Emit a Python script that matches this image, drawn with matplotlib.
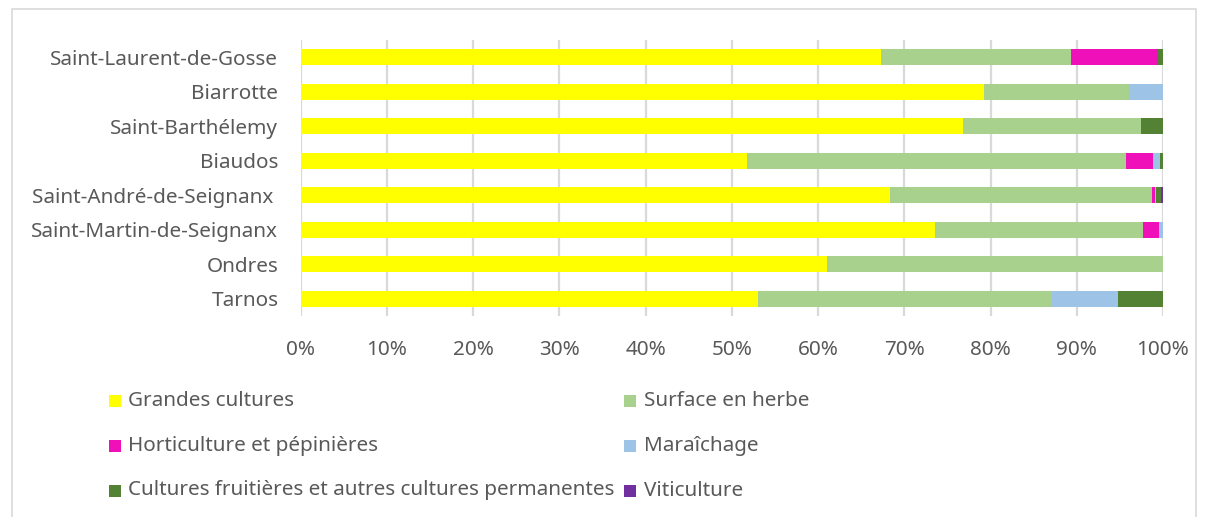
import matplotlib
matplotlib.use('Agg')
import matplotlib.pyplot as plt
from matplotlib.patches import Rectangle
import numpy as np

# share of each crop type by commune (%)
communes = ['Saint-Laurent-de-Gosse', 'Biarrotte', 'Saint-Barthélemy', 'Biaudos',
            'Saint-André-de-Seignanx ', 'Saint-Martin-de-Seignanx', 'Ondres', 'Tarnos']
grandes_cultures = [67.3, 79.2, 76.8, 51.8, 68.3, 73.6, 61.1, 53.1]
surface_herbe = [22.0, 16.8, 20.7, 43.9, 30.4, 24.1, 38.9, 34.0]
horticulture = [10.1, 0.0, 0.0, 3.1, 0.4, 1.8, 0.0, 0.0]
maraichage = [0.0, 4.0, 0.0, 0.9, 0.1, 0.5, 0.0, 7.7]
fruitieres = [0.6, 0.0, 2.5, 0.3, 0.6, 0.0, 0.0, 5.2]
viticulture = [0.0, 0.0, 0.0, 0.0, 0.2, 0.0, 0.0, 0.0]

series = [grandes_cultures, surface_herbe, horticulture, maraichage, fruitieres, viticulture]
names = ['Grandes cultures', 'Surface en herbe', 'Horticulture et pépinières',
         'Maraîchage', 'Cultures fruitières et autres cultures permanentes', 'Viticulture']
colors = ['#FFFF00', '#A9D18E', '#F010BA', '#9DC3E6', '#548235', '#7030A0']

plt.rcParams['font.family'] = ['Noto Sans', 'DejaVu Sans']
txt = '#595959'
fs = 14.9
W, H = 1208, 517

fig = plt.figure(figsize=(W / 100, H / 100), dpi=100)
ax = fig.add_axes([300.5 / W, 1 - 316 / H, 862.5 / W, 276 / H])

y = np.arange(len(communes))
left = np.zeros(len(communes))
for vals, c in zip(series, colors):
    v = np.array(vals)
    ax.barh(y, v, left=left, height=0.47, color=c, zorder=3)
    left += v

ax.set_xlim(0, 100)
ax.set_ylim(len(communes) - 0.5, -0.5)
ax.set_xticks(np.arange(0, 101, 10))
ax.set_xticklabels([f'{t}%' for t in range(0, 101, 10)])
ax.set_yticks(y)
ax.set_yticklabels(communes)
ax.grid(axis='x', color='#D9D9D9', linewidth=1.6, zorder=0)
for s in ax.spines.values():
    s.set_visible(False)
ax.tick_params(length=0, colors=txt, labelsize=fs)
ax.tick_params(axis='x', pad=17)
ax.tick_params(axis='y', pad=16)

# legend laid out in two columns, three rows
for i, (name, c) in enumerate(zip(names, colors)):
    row, col = i // 2, i % 2
    xm = [109, 624][col]
    ym = 400.5 + 45 * row
    fig.patches.append(Rectangle((xm / W, 1 - (ym + 6) / H), 12 / W, 12 / H,
                                 transform=fig.transFigure, facecolor=c, edgecolor='none'))
    fig.text((xm + 19.5) / W, 1 - ym / H, name, color=txt, fontsize=fs, va='center', ha='left')

# chart frame
fig.patches.append(Rectangle((12 / W, -0.02), 1184 / W, 1.02 - 9 / H,
                             transform=fig.transFigure, facecolor='none',
                             edgecolor='#D9D9D9', linewidth=1.2))

fig.savefig('out.png', dpi=100)
